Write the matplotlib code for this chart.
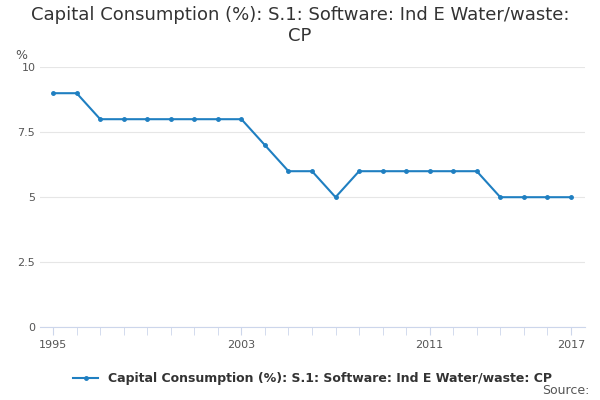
import matplotlib
matplotlib.use("Agg")
import matplotlib.pyplot as plt

years = list(range(1995, 2018))
values = [9, 9, 8, 8, 8, 8, 8, 8, 8, 7, 6, 6, 5, 6, 6, 6, 6, 6, 6, 5, 5, 5, 5]
yticks = [0, 2.5, 5, 7.5, 10]
ytick_labels = ["0", "2.5", "5", "7.5", "10"]
xtick_labels = [1995, 2003, 2011, 2017]
series_name = "Capital Consumption (%): S.1: Software: Ind E Water/waste: CP"
color = "#1f7fc1"

fig = plt.figure(figsize=(6, 4), dpi=100)
ax = fig.add_axes([0.067, 0.182, 0.908, 0.65])
ax.plot(years, values, color=color, lw=1.5, marker="o", ms=2.5)
ax.set_ylim(0, 10)
ax.set_xlim(1994.45, 2017.6)
ax.set_yticks(yticks)
ax.set_yticklabels(ytick_labels)
ax.set_xticks(years, minor=True)
ax.set_xticks(xtick_labels)
ax.grid(axis="y", color="#e6e6e6", lw=0.8)
ax.set_axisbelow(True)
for s in ["top", "right", "left"]:
    ax.spines[s].set_visible(False)
ax.spines["bottom"].set_color("#ccd6eb")
ax.tick_params(axis="y", length=0, labelsize=8, colors="#555555")
ax.tick_params(axis="x", which="both", length=6, color="#ccd6eb", labelsize=8, colors="#555555")
ax.text(-0.045, 1.03, "%", transform=ax.transAxes, fontsize=9, color="#555555")
fig.suptitle("Capital Consumption (%): S.1: Software: Ind E Water/waste:\nCP",
             y=0.985, fontsize=13, color="#333333")
leg = ax.legend([series_name], loc="upper center", bbox_to_anchor=(0.5, -0.13),
                frameon=False, prop={"size": 9, "weight": "bold"}, handlelength=2)
for t in leg.get_texts():
    t.set_color("#333333")
fig.text(0.982, 0.015, "Source:", ha="right", fontsize=9, color="#555555")
fig.savefig("out.png")
